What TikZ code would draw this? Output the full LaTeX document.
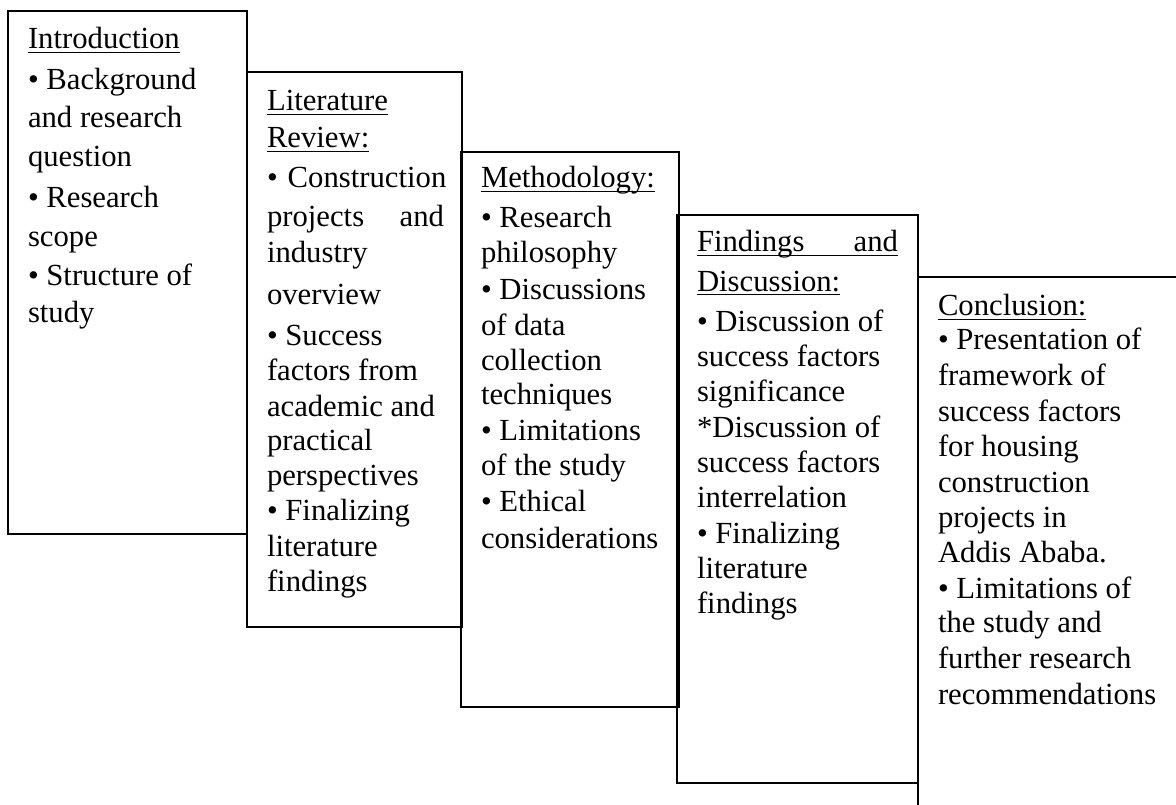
\documentclass[tikz,border=0pt]{standalone}
\usepackage{fontspec}
\setmainfont{Liberation Serif}
% underline that runs through descenders, as a word processor draws it
\newcommand\hdul[1]{\setbox0\hbox{#1}\rlap{\rule[-4pt]{\wd0}{1.4pt}}\box0}
\tikzset{
  stage/.style={draw, line width=1.7pt, rectangle, inner sep=0pt, outer sep=0pt, anchor=north west},
  txt/.style={anchor=base west, inner sep=0pt, outer sep=0pt, font=\fontsize{30.7}{36}\selectfont}
}
\begin{document}
\begin{tikzpicture}[x=1pt,y=-1pt]
\useasboundingbox (0,0) rectangle (1176,805);
\clip (0,0) rectangle (1176,805);

% the five stages, each one a step lower than the one before
\node[stage, minimum width=239pt, minimum height=523pt] (intro) at (8,11) {};
\node[stage, minimum width=215pt, minimum height=555pt] (lit) at (247,72) {};
\node[stage, minimum width=218pt, minimum height=555pt] (method) at (461,152) {};
\node[stage, minimum width=241pt, minimum height=568pt] (find) at (677,215) {};
\node[stage, minimum width=300pt, minimum height=560pt] (concl) at (918,277) {};

% Introduction
\foreach \y/\t [count=\i] in {
  49/{\hdul{Introduction}},
  90/{• Background},
  128/{and research},
  167/{question},
  208/{• Research},
  247/{scope},
  286/{• Structure of},
  322/{study}}
  \node[txt] (intro-\i) at (28,\y) {\t};

% Literature review
\foreach \y/\t [count=\i] in {
  111/{\hdul{Literature}},
  148/{\hdul{Review:}},
  188/{\hbox{•\hspace{10pt}Construction}},
  227/{\hbox to 177pt{projects\hfill and}},
  263/{industry},
  305/{overview},
  345/{• Success},
  380/{factors from},
  416/{academic and},
  450/{practical},
  485/{perspectives},
  520/{• Finalizing},
  556/{literature},
  591/{findings}}
  \node[txt] (lit-\i) at (267,\y) {\t};

% Methodology
\foreach \y/\t [count=\i] in {
  188/{\hdul{Methodology:}},
  228/{• Research},
  262/{philosophy},
  299/{• Discussions},
  335/{of data},
  370/{collection},
  404/{techniques},
  440/{• Limitations},
  475/{of the study},
  511/{• Ethical},
  548/{considerations}}
  \node[txt] (method-\i) at (481,\y) {\t};

% Findings and discussion
\foreach \y/\t [count=\i] in {
  252/{\hdul{\hbox to 201pt{Findings\hfill and}}},
  291/{\hdul{Discussion:}},
  331/{• Discussion of},
  366/{success factors},
  401/{significance},
  437/{*Discussion of},
  472/{success factors},
  507/{interrelation},
  543/{• Finalizing},
  578/{literature},
  613/{findings}}
  \node[txt] (find-\i) at (697,\y) {\t};

% Conclusion
\foreach \y/\t [count=\i] in {
  316/{\hdul{Conclusion:}},
  349/{• Presentation of},
  385/{framework of},
  421/{success factors},
  456/{for housing},
  492/{construction},
  527/{projects in},
  562/{Addis Ababa.},
  598/{• Limitations of},
  632/{the study and},
  668/{further research},
  704/{recommendations}}
  \node[txt] (concl-\i) at (938,\y) {\t};
\end{tikzpicture}
\end{document}
